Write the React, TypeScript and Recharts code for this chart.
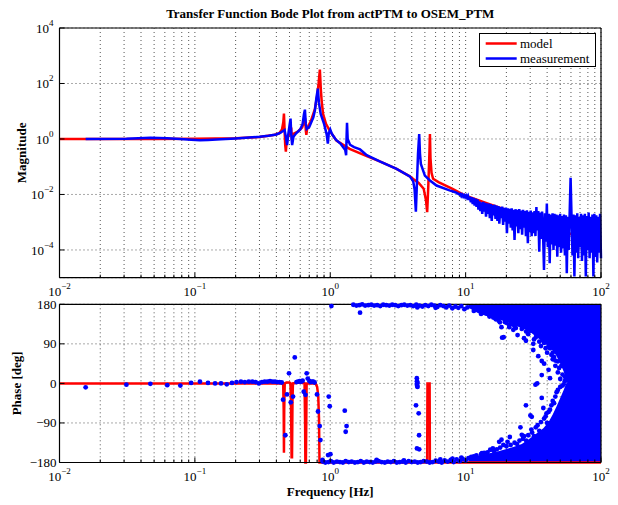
import React from 'react';
import { ComposedChart, Line, Area, Scatter, XAxis, YAxis, CartesianGrid, Legend } from 'recharts';

const SERIF = "'Liberation Serif', 'Times New Roman', 'DejaVu Serif', serif";

// ---------- text ----------
const chartTitle = 'Transfer Function Bode Plot from actPTM to OSEM_PTM';
const magAxisTitle = 'Magnitude';
const phaseAxisTitle = 'Phase [deg]';
const freqAxisTitle = 'Frequency [Hz]';
const modelName = 'model';
const measName = 'measurement';
const legendOrder = [modelName, measName];

// ---------- ticks ----------
const freqMajorTicks = [0.01, 0.1, 1, 10, 100];
const freqMajorExponents = ['\u22122', '\u22121', '0', '1', '2'];
const freqMinorTicks = [
  0.02, 0.03, 0.04, 0.05, 0.06, 0.07, 0.08, 0.09,
  0.2, 0.3, 0.4, 0.5, 0.6, 0.7, 0.8, 0.9,
  2, 3, 4, 5, 6, 7, 8, 9,
  20, 30, 40, 50, 60, 70, 80, 90,
];
const magTicks = [1e-4, 1e-2, 1, 1e2, 1e4];
const magTickExponents = ['\u22124', '\u22122', '0', '2', '4'];
const phaseTicks = [-180, -90, 0, 90, 180];
const phaseTickLabels = ['\u2212180', '\u221290', '0', '90', '180'];

// ---------- model magnitude [Hz, |H|] ----------
const modelMagnitude = [
  [0.01, 1.0], [0.05, 1.0], [0.1, 1.02], [0.2, 1.07], [0.3, 1.18], [0.38, 1.38], [0.42, 1.6],
  [0.44, 2.2], [0.45, 4.0], [0.455, 8.2], [0.46, 2.0], [0.465, 0.6], [0.47, 0.35], [0.477, 0.9],
  [0.49, 1.3], [0.505, 1.6], [0.515, 2.6], [0.52, 0.9], [0.53, 1.5], [0.58, 1.9], [0.62, 2.6],
  [0.645, 4.5], [0.652, 5.5], [0.66, 2.0], [0.666, 1.4], [0.675, 2.4], [0.72, 4.5], [0.77, 12],
  [0.8, 35], [0.82, 100], [0.838, 316], [0.852, 60], [0.865, 22], [0.885, 8], [0.93, 3.5],
  [0.99, 2.0], [1.11, 0.88], [1.39, 0.44], [1.86, 0.24], [2.32, 0.155], [3.09, 0.084],
  [3.87, 0.045], [4.1, 0.036], [4.5, 0.026], [4.9, 0.016], [5.1, 0.006], [5.2, 0.0023],
  [5.3, 0.02], [5.4, 0.3], [5.45, 1.5], [5.5, 0.2], [5.6, 0.06], [5.75, 0.037], [6.3, 0.028],
  [8, 0.016], [10, 0.009], [15, 0.0045], [20, 0.0028], [30, 0.0013], [50, 0.0005], [100, 0.00016],
];

// ---------- measured magnitude, smooth part [Hz, |H|] ----------
const measMagnitudeLow = [
  [0.0156, 1.0], [0.0312, 1.02], [0.0469, 1.1], [0.0625, 1.06], [0.0781, 1.0], [0.0938, 0.94],
  [0.109, 0.9], [0.125, 0.92], [0.156, 0.97], [0.2, 1.05], [0.25, 1.12], [0.3, 1.2], [0.35, 1.3],
  [0.4, 1.45], [0.43, 1.7], [0.445, 1.9], [0.46, 2.1], [0.47, 1.2], [0.48, 0.6], [0.49, 1.5],
  [0.5, 3.0], [0.509, 5.4], [0.515, 1.5], [0.523, 0.6], [0.535, 1.2], [0.56, 1.6], [0.6, 2.2],
  [0.625, 3.5], [0.64, 8], [0.65, 11.4], [0.66, 3.5], [0.67, 2.3], [0.7, 2.7], [0.75, 6],
  [0.77, 10.7], [0.79, 30], [0.81, 65], [0.825, 20], [0.85, 8], [0.9, 3.5], [0.94, 1.5],
  [0.96, 0.68], [0.975, 1.6], [1.0, 2.2], [1.03, 1.5], [1.1, 0.95], [1.2, 0.65], [1.29, 0.4],
  [1.31, 0.26], [1.322, 1.5], [1.33, 3.8], [1.345, 1.0], [1.4, 0.62], [1.5, 0.51], [1.66, 0.42],
  [1.86, 0.26], [2.32, 0.155], [3.09, 0.084], [3.87, 0.045], [4.1, 0.03], [4.2, 0.015],
  [4.29, 0.0024], [4.36, 0.02], [4.45, 0.3], [4.54, 1.5], [4.6, 0.3], [4.67, 0.126], [5.0, 0.048],
  [5.45, 0.032], [6.1, 0.021], [7.6, 0.014], [8.4, 0.012],
];

// ---------- measured magnitude, noisy part: log10|H| read column by column, 9 Hz .. 100 Hz ----------
const measNoiseStartHz = 9;
const measNoiseEndHz = 100;
const measNoiseLog10Mag = [
  -2.00, -1.98, -2.06, -2.01, -2.08, -2.03, -2.10, -2.04, -2.12, -2.05,
  -2.20, -2.08, -2.28, -2.10, -2.35, -2.12, -2.40, -2.15, -2.45, -2.18,
  -2.55, -2.25, -2.60, -2.28, -2.70, -2.27, -2.62, -2.30, -2.80, -2.32,
  -2.70, -2.33, -2.85, -2.35, -2.95, -2.38, -2.75, -2.37, -2.88, -2.40,
  -2.95, -2.42, -3.05, -2.45, -2.85, -2.44, -3.10, -2.48, -2.98, -2.47,
  -3.40, -2.50, -3.05, -2.52, -3.20, -2.50, -3.30, -2.55, -3.64, -2.53,
  -3.15, -2.55, -3.40, -2.53, -3.25, -2.58, -3.45, -2.55, -3.20, -2.60,
  -3.50, -2.57, -3.76, -2.62, -3.35, -2.58, -3.50, -2.64, -3.40, -2.60,
  -3.50, -2.45, -3.30, -2.60, -4.06, -2.65, -3.60, -2.62, -3.40, -4.72,
  -2.68, -3.70, -2.33, -3.90, -2.70, -4.48, -2.72, -3.80, -2.68, -4.00,
  -2.70, -3.85, -2.72, -4.24, -2.75, -3.90, -2.70, -4.10, -2.78, -3.95,
  -2.72, -4.20, -2.75, -4.84, -2.80, -4.00, -2.70, -1.40, -2.80, -4.20,
  -2.72, -4.96, -2.75, -4.10, -2.68, -4.30, -2.80, -3.90, -2.70, -4.40,
  -2.75, -4.20, -2.70, -4.96, -2.78, -4.00, -2.65, -4.30, -2.80, -4.10,
  -2.72, -4.96, -2.70, -4.25, -2.75, -4.45, -2.80, -4.10, -2.70, -4.30,
];

// ---------- model phase [Hz, deg] ----------
const modelPhase = [
  [0.01, 0], [0.449, 0], [0.453, -60], [0.455, -158], [0.457, -60], [0.461, 0], [0.475, 2],
  [0.5, 2], [0.508, 0], [0.513, -40], [0.518, -168], [0.522, -168], [0.526, -40], [0.53, 0],
  [0.6, 2], [0.646, 0], [0.652, -90], [0.655, -180], [0.661, -180], [0.665, -90], [0.669, 0],
  [0.78, 0], [0.8, -8], [0.815, -28], [0.826, -80], [0.833, -180], [5.2, -180], [5.225, 0],
  [5.42, 0], [5.445, -180], [100, -180],
];

// ---------- measured phase points [Hz, deg] ----------
const measPhaseLow = [
  [0.0156, -9], [0.0312, -3], [0.0469, -1], [0.0625, -4], [0.0781, -5], [0.0938, 1], [0.109, 4],
  [0.125, 1], [0.141, 0], [0.156, 0], [0.172, -2], [0.188, 1], [0.203, 3], [0.219, 4], [0.234, 3],
  [0.25, 4], [0.266, 4], [0.281, 3], [0.297, 0], [0.313, 3], [0.328, 4], [0.344, 4], [0.359, 5],
  [0.375, 4], [0.391, 4], [0.406, 3], [0.422, 3], [0.438, 2],
  [0.448, -37], [0.466, -118], [0.479, -25], [0.496, 23], [0.511, -43], [0.531, -30], [0.547, 59],
  [0.563, 3], [0.578, 4], [0.594, 5], [0.609, 4], [0.625, 6], [0.637, -19], [0.656, -26],
  [0.67, 23], [0.682, 11], [0.703, 5], [0.719, 3], [0.734, 4], [0.75, 4], [0.766, 2], [0.798, -25],
  [0.812, -64], [0.836, -97], [0.846, -129], [0.876, -174], [0.963, -163], [0.975, -30],
  [0.991, -52], [1.003, -161], [1.02, 176], [1.28, -62], [1.3, -110], [1.32, -97], [1.66, 161],
  [4.3, -50], [4.36, 12], [4.37, 5], [4.38, 0], [4.37, -3], [4.39, -6], [4.4, 2], [4.41, -8],
  [4.5, -68], [4.53, -118], [4.37, -148], [4.54, -150],
];
const measPhaseBottomBand = [
  [0.88, -178], [0.92, -180], [0.97, -179], [1.01, -177], [1.06, -180], [1.12, -178], [1.18, -179],
  [1.24, -180], [1.3, -177], [1.37, -179], [1.44, -178], [1.52, -180], [1.6, -179], [1.68, -177],
  [1.77, -180], [1.86, -178], [1.96, -179], [2.06, -180], [2.17, -178], [2.2, -174], [2.28, -177],
  [2.4, -179], [2.53, -180], [2.66, -178], [2.8, -179], [2.95, -177], [3.1, -180], [3.26, -179],
  [3.43, -178], [3.5, -175], [3.61, -180], [3.8, -177], [4.0, -179], [4.21, -178], [4.43, -180],
  [4.66, -179], [4.9, -177], [5.16, -178], [5.43, -180], [5.71, -179], [6.01, -176], [6.33, -178],
  [6.5, -173], [6.66, -180], [7.0, -175], [7.37, -178], [7.76, -174], [8.0, -171], [8.16, -179],
  [8.59, -173], [9.04, -177], [9.3, -169], [9.51, -172], [10.0, -175], [10.5, -170],
];
const measPhaseTopBand = [
  [1.48, 179], [1.56, 177], [1.64, 178], [1.72, 180], [1.81, 177], [1.91, 178], [2.01, 179],
  [2.11, 177], [2.22, 178], [2.34, 176], [2.46, 179], [2.59, 178], [2.73, 177], [2.87, 179],
  [3.02, 178], [3.18, 176], [3.35, 178], [3.52, 179], [3.71, 177], [3.9, 178], [4.1, 176],
  [4.32, 179], [4.4, 173], [4.55, 177], [4.79, 175], [5.04, 178], [5.3, 176], [5.58, 179],
  [5.87, 177], [6.0, 172], [6.18, 174], [6.5, 178], [6.85, 176], [7.2, 173], [7.58, 177],
  [7.98, 171], [8.4, 175], [8.84, 172], [9.3, 176], [9.79, 169], [10.3, 173],
];
const measPhaseFringe = [
  [11, -167], [12, -164], [12.6, 168], [13.2, -159], [13.5, 162], [13.7, -158], [14.5, 158],
  [15.2, -151], [15.9, -148], [16.2, -154], [16.7, 146], [17.7, -133], [17.9, 139], [18.4, 128],
  [18.4, -128], [18.6, 104], [19, -140], [19.1, 105], [20, 138], [20.4, -133], [21, 133],
  [21.2, -122], [22.5, 122], [23, 130], [24, -138], [24.2, 110], [25.4, 139], [25.4, -100],
  [26, -117], [27, 103], [27, -120], [27.9, 97], [27.9, -50], [28, 118], [28, -130], [30.1, -73],
  [30.6, -105], [30.8, -76], [31.6, 90], [31.6, 76], [32, -120], [32.8, -3], [33, 105], [33.8, 0],
  [34.4, 62], [35, -108], [36.5, 51], [36.5, 19], [36.5, -33], [37.5, -56], [38, 45], [38, 92],
  [39.6, -68], [40, -90], [41, 31], [42, 12], [42, 80], [42, -60], [44, 55], [45, -45], [46, 40],
  [47, -20], [48, 25], [50, 10], [52, -5],
  [11.5, 165], [13, 158], [15, 152], [16, 150], [17.5, 143], [19.5, 140], [21, 128], [22, 135],
  [23.5, 126], [26, 124], [27, 131], [29, 112], [30, 120], [32, 100], [33.5, 110], [35, 95],
  [36, 85], [37, 98], [39, 80], [40, 70], [41, 85], [43, 65], [44, 70], [45, 60], [46, 52],
  [48, 50], [49, 35], [51, 40], [52, 20], [54, 15], [55, 8],
  [11.5, -166], [13, -161], [14.5, -157], [16, -152], [17, -150], [18, -146], [20, -143],
  [21.5, -140], [23, -135], [25, -130], [26.5, -126], [29, -118], [31, -112], [33, -100],
  [34, -95], [36, -88], [38, -80], [39, -75], [41, -65], [43, -50], [44, -40], [46, -30],
  [48, -15], [50, -8], [53, -2], [54, 5],
];

// ---------- dense measured-phase cloud edges [Hz, deg] ----------
const cloudUpperInnerEdge = [
  [10.5, 172], [12.3, 160], [14, 154], [16.7, 148], [19, 142], [21.3, 137], [25, 128],
  [29.6, 118], [34, 104], [39.6, 88], [44, 75], [47, 62], [50, 45], [53, 27], [56, 4], [57, 0], [100, 0],
];
const cloudLowerInnerEdge = [
  [10.5, -170], [12.9, -163], [16.7, -156], [22.5, -145], [26, -138], [29.6, -126], [33, -115],
  [37.5, -102], [41, -88], [44, -71], [47, -52], [50, -33], [53, -15], [56, 4], [57, 2], [100, 2],
];

// ---------- built series ----------
const freqAllTicks = [...freqMajorTicks, ...freqMinorTicks].sort((a, b) => a - b);
const modelMagData = modelMagnitude.map(([f, m]) => ({ f, m }));
const measNoiseData = measNoiseLog10Mag.map((lg, i) => ({
  f: measNoiseStartHz * Math.pow(measNoiseEndHz / measNoiseStartHz, i / (measNoiseLog10Mag.length - 1)),
  m: Math.pow(10, lg),
}));
const measMagData = [...measMagnitudeLow.map(([f, m]) => ({ f, m })), ...measNoiseData];
const modelPhaseData = modelPhase.map(([f, p]) => ({ f, p }));
const measPhaseData = [...measPhaseLow, ...measPhaseBottomBand, ...measPhaseTopBand, ...measPhaseFringe].map(
  ([f, p]) => ({ f, p })
);
const cloudUpperData = cloudUpperInnerEdge.map(([f, lo]) => ({ f, range: [lo, 180] }));
const cloudLowerData = cloudLowerInnerEdge.map(([f, hi]) => ({ f, range: [-180, hi] }));

const RED = '#ff0000';
const BLUE = '#0000ff';
const GRID = { stroke: '#555', strokeDasharray: '1 3', strokeWidth: 1 };
const AXIS_LINE = { stroke: '#000', strokeWidth: 1.2 };

// ---------- tick renderers ----------
const makeFreqTick = (side: 'bottom' | 'top', showLabel: boolean, labelDy = 19) => (props: any) => {
  const { x, y, payload } = props;
  const mi = freqMajorTicks.indexOf(payload.value);
  const len = mi >= 0 ? 5 : 3;
  const dir = side === 'bottom' ? -1 : 1;
  return (
    <g>
      <line x1={x} x2={x} y1={y} y2={y + dir * len} stroke="#000" strokeWidth={1} />
      {showLabel && mi >= 0 && (
        <text x={x} y={y + labelDy} textAnchor="middle" fontFamily={SERIF} fontSize={13} fill="#000">
          <tspan>10</tspan>
          <tspan dy={-7} fontSize={9}>
            {freqMajorExponents[mi]}
          </tspan>
        </text>
      )}
    </g>
  );
};

const MagTickLeft = (props: any) => {
  const { x, y, payload } = props;
  const i = magTicks.indexOf(payload.value);
  return (
    <g>
      <line x1={x} x2={x + 5} y1={y} y2={y} stroke="#000" strokeWidth={1} />
      <text x={x - 6} y={y + 5} textAnchor="end" fontFamily={SERIF} fontSize={13} fill="#000">
        <tspan>10</tspan>
        <tspan dy={-7} fontSize={9}>
          {magTickExponents[i]}
        </tspan>
      </text>
    </g>
  );
};

const PhaseTickLeft = (props: any) => {
  const { x, y, payload } = props;
  const i = phaseTicks.indexOf(payload.value);
  return (
    <g>
      <line x1={x} x2={x + 5} y1={y} y2={y} stroke="#000" strokeWidth={1} />
      <text x={x - 3} y={y + 4.5} textAnchor="end" fontFamily={SERIF} fontSize={13} fill="#000">
        {phaseTickLabels[i]}
      </text>
    </g>
  );
};

const RightTick = (props: any) => {
  const { x, y } = props;
  return <line x1={x} x2={x - 5} y1={y} y2={y} stroke="#000" strokeWidth={1} />;
};

// ---------- titles ----------
const TitleText = () => (
  <text x={330.25} y={18} textAnchor="middle" fontFamily={SERIF} fontWeight="bold" fontSize={13} fill="#000">
    {chartTitle}
  </text>
);
const MagTitle = () => (
  <text
    x={0}
    y={0}
    transform="translate(26, 152.85) rotate(-90)"
    textAnchor="middle"
    fontFamily={SERIF}
    fontWeight="bold"
    fontSize={13}
    fill="#000"
  >
    {magAxisTitle}
  </text>
);
const PhaseTitle = () => (
  <text
    x={0}
    y={0}
    transform="translate(21, 93.4) rotate(-90)"
    textAnchor="middle"
    fontFamily={SERIF}
    fontWeight="bold"
    fontSize={13}
    fill="#000"
  >
    {phaseAxisTitle}
  </text>
);
const FreqTitle = () => (
  <text x={330.25} y={206} textAnchor="middle" fontFamily={SERIF} fontWeight="bold" fontSize={13} fill="#000">
    {freqAxisTitle}
  </text>
);

// ---------- legend ----------
const LegendBox = (props: any) => {
  const items = [...(props.payload || [])].sort(
    (a: any, b: any) => legendOrder.indexOf(a.value) - legendOrder.indexOf(b.value)
  );
  return (
    <div
      style={{
        width: 117,
        height: 34,
        boxSizing: 'border-box',
        border: '1px solid #000',
        background: '#fff',
        position: 'relative',
        fontFamily: SERIF,
        fontSize: 13,
        color: '#000',
      }}
    >
      {items.map((it: any, i: number) => (
        <div key={i} style={{ position: 'absolute', left: 0, top: 1.8 + i * 15, height: 15, width: 115 }}>
          <svg width={40} height={15} style={{ position: 'absolute', left: 0, top: 0 }}>
            <line x1={5.7} x2={36.7} y1={7.5} y2={7.5} stroke={it.color} strokeWidth={2.5} />
          </svg>
          <span style={{ position: 'absolute', left: 40, top: 0, lineHeight: '15px', whiteSpace: 'nowrap' }}>
            {it.value}
          </span>
        </div>
      ))}
    </div>
  );
};

const dotShape = (props: any) => {
  if (props.cx == null || props.cy == null) return <g />;
  return <circle cx={props.cx} cy={props.cy} r={2.4} fill={BLUE} />;
};

const freqAxisCommon = {
  dataKey: 'f',
  type: 'number' as const,
  scale: 'log' as const,
  domain: [0.01, 100],
  ticks: freqAllTicks,
  interval: 0,
  tickSize: 0,
  tickMargin: 0,
  tickLine: false,
  axisLine: AXIS_LINE,
};

export default function App() {
  return (
    <div style={{ position: 'absolute', left: 0, top: 0, width: 618, height: 505, background: '#fff' }}>
      <div style={{ position: 'absolute', left: 0, top: 0 }}>
        <ComposedChart width={618} height={300} margin={{ top: 0, right: 0, bottom: 0, left: 0 }}>
          <CartesianGrid {...GRID} />
          <XAxis {...freqAxisCommon} height={22.3} tick={makeFreqTick('bottom', true, 18)} />
          <XAxis
            {...freqAxisCommon}
            xAxisId="top"
            orientation="top"
            height={28}
            tick={makeFreqTick('top', false)}
            label={<TitleText />}
          />
          <YAxis
            type="number"
            scale="log"
            domain={[1e-5, 1e4]}
            ticks={magTicks}
            interval={0}
            width={59.5}
            tickSize={0}
            tickMargin={0}
            tickLine={false}
            axisLine={AXIS_LINE}
            tick={MagTickLeft}
            label={<MagTitle />}
          />
          <YAxis
            yAxisId="right"
            orientation="right"
            type="number"
            scale="log"
            domain={[1e-5, 1e4]}
            ticks={magTicks}
            interval={0}
            width={17}
            tickSize={0}
            tickMargin={0}
            tickLine={false}
            axisLine={AXIS_LINE}
            tick={RightTick}
          />
          <Line
            name={modelName}
            data={modelMagData}
            dataKey="m"
            type="linear"
            stroke={RED}
            strokeWidth={2.5}
            dot={false}
            isAnimationActive={false}
          />
          <Line
            name={measName}
            data={measMagData}
            dataKey="m"
            type="linear"
            stroke={BLUE}
            strokeWidth={2.5}
            dot={false}
            isAnimationActive={false}
          />
          <Legend
            layout="vertical"
            align="center"
            verticalAlign="middle"
            wrapperStyle={{ left: 479, top: 33, width: 117, height: 34 }}
            content={LegendBox}
          />
        </ComposedChart>
      </div>
      <div style={{ position: 'absolute', left: 0, top: 290 }}>
        <ComposedChart width={618} height={215} margin={{ top: 0, right: 0, bottom: 0, left: 0 }}>
          <CartesianGrid {...GRID} />
          <XAxis {...freqAxisCommon} height={42.5} tick={makeFreqTick('bottom', true, 18.5)} label={<FreqTitle />} />
          <XAxis {...freqAxisCommon} xAxisId="top" orientation="top" height={14.3} tick={makeFreqTick('top', false)} />
          <YAxis
            type="number"
            domain={[-180, 180]}
            ticks={phaseTicks}
            interval={0}
            width={59.5}
            tickSize={0}
            tickMargin={0}
            tickLine={false}
            axisLine={AXIS_LINE}
            tick={PhaseTickLeft}
            label={<PhaseTitle />}
          />
          <YAxis
            yAxisId="right"
            orientation="right"
            type="number"
            domain={[-180, 180]}
            ticks={phaseTicks}
            interval={0}
            width={17}
            tickSize={0}
            tickMargin={0}
            tickLine={false}
            axisLine={AXIS_LINE}
            tick={RightTick}
          />
          <Line
            data={modelPhaseData}
            dataKey="p"
            type="linear"
            stroke={RED}
            strokeWidth={2.5}
            dot={false}
            isAnimationActive={false}
          />
          <Area
            data={cloudUpperData}
            dataKey="range"
            type="linear"
            stroke="none"
            fill={BLUE}
            fillOpacity={1}
            dot={false}
            activeDot={false}
            isAnimationActive={false}
          />
          <Area
            data={cloudLowerData}
            dataKey="range"
            type="linear"
            stroke="none"
            fill={BLUE}
            fillOpacity={1}
            dot={false}
            activeDot={false}
            isAnimationActive={false}
          />
          <Scatter data={measPhaseData} dataKey="p" fill={BLUE} shape={dotShape} isAnimationActive={false} />
        </ComposedChart>
      </div>
    </div>
  );
}
